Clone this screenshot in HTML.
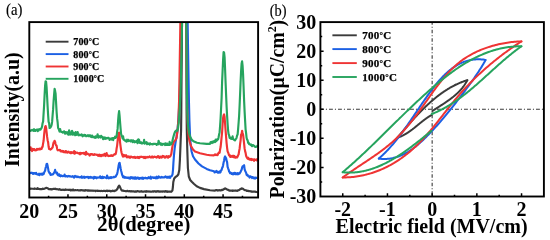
<!DOCTYPE html>
<html><head><meta charset="utf-8"><style>
html,body{margin:0;padding:0;background:#fff;}
body{width:550px;height:240px;overflow:hidden;font-family:"Liberation Serif",serif;}
svg{display:block;will-change:transform;}
</style></head><body>
<svg width="550" height="240" viewBox="0 0 550 240">
<rect width="550" height="240" fill="#fff"/>
<defs><clipPath id="ca"><rect x="29.30" y="22.10" width="228.80" height="175.40"/></clipPath>
<clipPath id="cb"><rect x="320.40" y="22.10" width="223.50" height="174.40"/></clipPath></defs>
<g clip-path="url(#ca)" fill="none" stroke-width="2.15" stroke-linejoin="round">
<path d="M29.60,188.81 L30.10,188.86 L30.60,188.48 L31.10,188.68 L31.60,188.72 L32.10,188.73 L32.60,188.73 L33.10,188.74 L33.60,188.81 L34.10,188.96 L34.60,188.45 L35.10,188.73 L35.60,188.80 L36.10,188.87 L36.60,188.76 L37.10,188.89 L37.60,188.17 L38.10,188.96 L38.60,188.88 L39.10,188.88 L39.60,189.07 L40.10,189.08 L40.60,189.15 L41.10,188.95 L41.60,188.95 L42.10,189.22 L42.60,188.51 L43.10,188.99 L43.60,188.86 L44.10,188.89 L44.60,188.61 L45.10,188.30 L45.60,188.18 L46.10,187.71 L46.60,187.88 L47.10,188.02 L47.60,188.19 L48.10,188.54 L48.60,189.13 L49.10,189.01 L49.60,189.16 L50.10,189.39 L50.60,189.12 L51.10,189.29 L51.60,189.54 L52.10,189.27 L52.60,189.20 L53.10,188.85 L53.60,188.96 L54.10,188.87 L54.60,188.78 L55.10,188.87 L55.60,188.70 L56.10,189.15 L56.60,189.14 L57.10,189.33 L57.60,189.16 L58.10,189.34 L58.60,189.59 L59.10,189.47 L59.60,189.06 L60.10,189.64 L60.60,189.82 L61.10,189.81 L61.60,189.79 L62.10,189.87 L62.60,189.69 L63.10,189.58 L63.60,189.91 L64.10,189.80 L64.60,190.05 L65.10,190.02 L65.60,189.42 L66.10,189.67 L66.60,189.85 L67.10,189.79 L67.60,189.79 L68.10,189.88 L68.60,189.82 L69.10,189.93 L69.60,189.84 L70.10,189.58 L70.60,190.30 L71.10,189.95 L71.60,189.89 L72.10,190.38 L72.60,190.06 L73.10,189.49 L73.60,190.28 L74.10,190.06 L74.60,190.36 L75.10,190.10 L75.60,190.09 L76.10,190.25 L76.60,190.21 L77.10,190.27 L77.60,190.08 L78.10,190.23 L78.60,190.35 L79.10,190.28 L79.60,190.31 L80.10,190.16 L80.60,190.50 L81.10,190.02 L81.60,190.27 L82.10,190.20 L82.60,190.36 L83.10,190.33 L83.60,190.47 L84.10,190.67 L84.60,190.34 L85.10,190.56 L85.60,190.17 L86.10,190.25 L86.60,190.22 L87.10,190.49 L87.60,190.60 L88.10,190.27 L88.60,190.59 L89.10,190.43 L89.60,190.70 L90.10,190.67 L90.60,190.78 L91.10,190.56 L91.60,190.67 L92.10,190.65 L92.60,190.62 L93.10,190.91 L93.60,190.65 L94.10,190.77 L94.60,190.75 L95.10,190.69 L95.60,191.11 L96.10,190.73 L96.60,190.74 L97.10,190.65 L97.60,190.97 L98.10,190.84 L98.60,190.85 L99.10,190.94 L99.60,190.96 L100.10,190.88 L100.60,191.09 L101.10,190.88 L101.60,190.90 L102.10,191.11 L102.60,191.03 L103.10,190.99 L103.60,190.81 L104.10,190.76 L104.60,190.90 L105.10,191.08 L105.60,191.06 L106.10,190.88 L106.60,190.78 L107.10,190.56 L107.60,191.14 L108.10,191.06 L108.60,190.89 L109.10,190.88 L109.60,191.03 L110.10,190.91 L110.60,191.31 L111.10,191.15 L111.60,191.25 L112.10,190.93 L112.60,190.60 L113.10,190.90 L113.60,190.78 L114.10,191.14 L114.60,190.94 L115.10,190.44 L115.60,190.60 L116.10,190.32 L116.60,189.96 L117.10,189.13 L117.60,188.67 L118.10,187.17 L118.60,186.25 L119.10,185.54 L119.60,186.16 L120.10,187.30 L120.60,188.39 L121.10,189.38 L121.60,190.16 L122.10,190.58 L122.60,190.56 L123.10,190.54 L123.60,190.73 L124.10,191.01 L124.60,191.04 L125.10,190.98 L125.60,191.15 L126.10,191.30 L126.60,191.28 L127.10,190.91 L127.60,190.89 L128.10,191.20 L128.60,191.33 L129.10,191.16 L129.60,191.10 L130.10,191.45 L130.60,191.49 L131.10,191.04 L131.60,191.36 L132.10,191.42 L132.60,191.33 L133.10,191.28 L133.60,191.23 L134.10,191.50 L134.60,191.78 L135.10,191.48 L135.60,191.34 L136.10,191.72 L136.60,191.44 L137.10,191.11 L137.60,191.08 L138.10,191.53 L138.60,191.48 L139.10,191.27 L139.60,191.67 L140.10,191.69 L140.60,191.33 L141.10,191.37 L141.60,191.19 L142.10,191.73 L142.60,191.70 L143.10,191.52 L143.60,191.53 L144.10,191.62 L144.60,191.40 L145.10,191.44 L145.60,191.66 L146.10,191.12 L146.60,191.68 L147.10,191.31 L147.60,191.51 L148.10,191.60 L148.60,191.53 L149.10,191.34 L149.60,191.62 L150.10,191.53 L150.60,191.48 L151.10,191.72 L151.60,191.72 L152.10,191.56 L152.60,191.34 L153.10,191.72 L153.60,191.48 L154.10,191.13 L154.60,191.32 L155.10,191.40 L155.60,191.75 L156.10,191.57 L156.60,191.58 L157.10,191.14 L157.60,191.46 L158.10,191.09 L158.60,191.46 L159.10,191.68 L159.60,191.58 L160.10,191.29 L160.60,191.61 L161.10,191.40 L161.60,191.45 L162.10,191.75 L162.60,191.69 L163.10,191.35 L163.60,191.53 L164.10,191.56 L164.60,191.78 L165.10,191.51 L165.60,191.04 L166.10,191.68 L166.60,191.54 L167.10,191.29 L167.60,191.89 L168.10,191.60 L168.60,191.59 L169.10,191.62 L169.60,191.68 L170.10,191.75 L170.60,191.57 L171.10,191.81 L171.50,191.60 L172.40,190.60 L172.90,187.00 L173.30,182.00 L174.20,178.50 L175.50,177.00 L176.80,176.20 L178.30,174.50 L179.30,170.00 L179.90,160.00 L180.50,145.00 L181.10,130.00 L181.30,112.00 L181.40,95.00 L181.60,70.00 L181.90,40.00 L182.00,20.10 L186.30,20.10 L186.40,40.00 L186.50,80.00 L186.60,110.00 L186.80,130.00 L187.30,150.00 L187.90,168.00 L188.80,176.50 L190.20,180.00 L191.80,181.80 L193.80,183.80 L196.70,186.30 L200.00,187.90 L204.00,189.10 L210.00,190.20 L215.00,190.60 L215.60,190.22 L216.10,190.08 L216.60,190.15 L217.10,190.25 L217.60,190.56 L218.10,190.39 L218.60,190.28 L219.10,190.46 L219.60,190.14 L220.10,190.32 L220.60,190.24 L221.10,190.38 L221.60,189.85 L222.10,190.10 L222.60,190.02 L223.10,189.30 L223.60,189.44 L224.10,189.11 L224.60,188.72 L225.10,188.26 L225.60,188.75 L226.10,188.71 L226.60,189.33 L227.10,189.50 L227.60,189.79 L228.10,189.96 L228.60,189.91 L229.10,190.63 L229.60,190.60 L230.10,190.76 L230.60,190.68 L231.10,190.77 L231.60,190.75 L232.10,190.39 L232.60,190.99 L233.10,190.66 L233.60,190.60 L234.10,190.68 L234.60,190.76 L235.10,190.67 L235.60,190.78 L236.10,190.51 L236.60,190.82 L237.10,190.92 L237.60,190.41 L238.10,190.43 L238.60,190.17 L239.10,189.93 L239.60,189.69 L240.10,189.18 L240.60,188.85 L241.10,188.98 L241.60,188.33 L242.10,188.49 L242.60,188.47 L243.10,188.98 L243.60,189.33 L244.10,189.68 L244.60,189.92 L245.10,190.25 L245.60,190.23 L246.10,190.34 L246.60,190.73 L247.10,191.03 L247.60,190.81 L248.10,190.74 L248.60,190.97 L249.10,191.28 L249.60,191.22 L250.10,191.10 L250.60,191.44 L251.10,191.22 L251.60,191.42 L252.10,191.80 L252.60,191.67 L253.10,191.60 L253.60,191.59 L254.10,191.54 L254.60,191.71 L255.10,191.62 L255.60,191.91 L256.10,191.93 L256.60,192.05 L257.10,192.00 L257.60,191.83" stroke="#3b3b3b"/>
<path d="M29.60,173.50 L30.10,172.90 L30.60,173.18 L31.10,172.66 L31.60,172.91 L32.10,173.05 L32.60,172.92 L33.10,173.92 L33.60,173.12 L34.10,172.96 L34.60,173.30 L35.10,173.79 L35.60,173.23 L36.10,172.77 L36.60,174.18 L37.10,174.28 L37.60,174.31 L38.10,174.80 L38.60,174.62 L39.10,173.67 L39.60,175.16 L40.10,173.99 L40.60,174.04 L41.10,173.69 L41.60,174.58 L42.10,173.89 L42.60,174.70 L43.10,173.26 L43.60,174.14 L44.10,172.60 L44.60,171.55 L45.10,170.74 L45.60,167.84 L46.10,166.54 L46.60,163.95 L47.10,163.83 L47.60,165.86 L48.10,168.41 L48.60,171.33 L49.10,172.18 L49.60,173.31 L50.10,173.15 L50.60,174.95 L51.10,174.77 L51.60,174.75 L52.10,174.43 L52.60,174.40 L53.10,174.33 L53.60,173.46 L54.10,172.66 L54.60,171.95 L55.10,169.90 L55.60,172.02 L56.10,172.40 L56.60,173.48 L57.10,172.72 L57.60,174.75 L58.10,175.24 L58.60,175.43 L59.10,174.30 L59.60,175.83 L60.10,175.17 L60.60,176.34 L61.10,175.46 L61.60,175.81 L62.10,175.73 L62.60,176.23 L63.10,175.96 L63.60,175.91 L64.10,176.16 L64.60,174.58 L65.10,175.96 L65.60,176.37 L66.10,176.33 L66.60,175.99 L67.10,175.97 L67.60,176.67 L68.10,176.38 L68.60,175.92 L69.10,176.12 L69.60,176.45 L70.10,176.40 L70.60,176.34 L71.10,176.65 L71.60,176.78 L72.10,176.74 L72.60,176.14 L73.10,176.57 L73.60,176.87 L74.10,177.57 L74.60,176.24 L75.10,175.84 L75.60,176.48 L76.10,176.73 L76.60,176.45 L77.10,177.19 L77.60,176.54 L78.10,176.56 L78.60,177.17 L79.10,177.11 L79.60,177.38 L80.10,176.99 L80.60,177.11 L81.10,177.53 L81.60,176.33 L82.10,177.74 L82.60,177.25 L83.10,177.59 L83.60,177.11 L84.10,176.70 L84.60,177.86 L85.10,177.56 L85.60,177.15 L86.10,177.12 L86.60,177.15 L87.10,176.76 L87.60,177.37 L88.10,176.98 L88.60,178.04 L89.10,177.12 L89.60,177.27 L90.10,177.67 L90.60,176.83 L91.10,177.70 L91.60,177.52 L92.10,177.29 L92.60,177.75 L93.10,177.85 L93.60,178.52 L94.10,176.78 L94.60,177.48 L95.10,177.88 L95.60,177.14 L96.10,177.82 L96.60,178.32 L97.10,177.45 L97.60,177.62 L98.10,177.40 L98.60,177.61 L99.10,177.34 L99.60,177.54 L100.10,176.31 L100.60,177.95 L101.10,177.58 L101.60,177.21 L102.10,178.13 L102.60,176.70 L103.10,177.94 L103.60,177.37 L104.10,177.16 L104.60,177.44 L105.10,177.46 L105.60,177.70 L106.10,177.70 L106.60,178.19 L107.10,175.49 L107.60,177.66 L108.10,177.15 L108.60,178.34 L109.10,178.16 L109.60,177.67 L110.10,177.12 L110.60,178.03 L111.10,178.07 L111.60,177.17 L112.10,177.38 L112.60,177.56 L113.10,177.49 L113.60,177.03 L114.10,176.74 L114.60,177.04 L115.10,176.72 L115.60,176.73 L116.10,175.93 L116.60,174.74 L117.10,174.10 L117.60,171.67 L118.10,168.82 L118.60,165.57 L119.10,163.42 L119.60,162.78 L120.10,165.43 L120.60,168.28 L121.10,170.74 L121.60,172.48 L122.10,174.83 L122.60,175.89 L123.10,177.26 L123.60,176.41 L124.10,177.74 L124.60,176.98 L125.10,177.80 L125.60,177.30 L126.10,177.35 L126.60,177.70 L127.10,178.04 L127.60,177.91 L128.10,177.40 L128.60,178.21 L129.10,178.04 L129.60,177.61 L130.10,178.72 L130.60,177.25 L131.10,177.14 L131.60,177.92 L132.10,178.18 L132.60,177.46 L133.10,178.52 L133.60,177.66 L134.10,177.64 L134.60,178.65 L135.10,177.31 L135.60,178.63 L136.10,177.77 L136.60,178.64 L137.10,177.72 L137.60,177.55 L138.10,177.57 L138.60,178.50 L139.10,178.96 L139.60,178.24 L140.10,177.87 L140.60,178.42 L141.10,178.11 L141.60,178.58 L142.10,177.58 L142.60,178.12 L143.10,178.85 L143.60,177.89 L144.10,177.85 L144.60,178.21 L145.10,178.13 L145.60,177.70 L146.10,178.12 L146.60,177.99 L147.10,178.51 L147.60,177.94 L148.10,177.76 L148.60,177.23 L149.10,178.19 L149.60,178.08 L150.10,177.53 L150.60,176.69 L151.10,178.70 L151.60,177.53 L152.10,177.53 L152.60,177.32 L153.10,177.48 L153.60,177.98 L154.10,177.33 L154.60,177.90 L155.10,177.75 L155.60,178.26 L156.10,177.41 L156.60,176.75 L157.10,178.33 L157.60,177.72 L158.10,177.80 L158.60,176.40 L159.10,177.45 L159.60,177.01 L160.10,177.59 L160.60,177.77 L161.10,177.60 L161.60,176.85 L162.10,177.37 L162.60,177.23 L163.10,177.44 L163.60,177.45 L164.10,177.54 L164.60,176.79 L165.10,176.79 L165.60,176.42 L166.10,177.30 L166.60,177.56 L167.10,176.77 L167.60,177.16 L168.10,177.70 L168.60,177.48 L169.10,176.51 L169.60,177.07 L170.10,177.91 L170.50,176.60 L171.60,176.20 L172.50,174.50 L173.00,170.00 L173.40,163.00 L174.00,155.00 L174.70,148.00 L175.60,142.00 L176.50,137.00 L177.50,130.00 L178.50,118.00 L179.50,100.00 L180.50,70.00 L181.20,40.00 L181.60,20.10 L187.60,20.10 L187.90,40.00 L188.40,70.00 L188.90,100.00 L189.40,120.00 L190.00,135.00 L190.70,145.00 L191.60,151.50 L193.00,156.20 L195.00,159.50 L198.50,163.50 L202.00,166.40 L206.70,168.90 L210.00,170.30 L214.00,171.30 L214.60,172.45 L215.10,171.89 L215.60,171.45 L216.10,171.97 L216.60,170.94 L217.10,172.06 L217.60,172.68 L218.10,171.89 L218.60,172.71 L219.10,172.42 L219.60,171.47 L220.10,172.57 L220.60,172.01 L221.10,170.29 L221.60,170.08 L222.10,167.99 L222.60,167.12 L223.10,165.30 L223.60,162.42 L224.10,160.41 L224.60,157.48 L225.10,156.45 L225.60,157.58 L226.10,158.23 L226.60,160.74 L227.10,162.03 L227.60,166.80 L228.10,168.27 L228.60,169.57 L229.10,171.37 L229.60,172.15 L230.10,173.24 L230.60,172.84 L231.10,173.08 L231.60,173.84 L232.10,173.36 L232.60,173.57 L233.10,174.31 L233.60,173.13 L234.10,173.94 L234.60,172.85 L235.10,174.15 L235.60,173.04 L236.10,173.94 L236.60,174.19 L237.10,173.95 L237.60,173.01 L238.10,174.35 L238.60,173.45 L239.10,173.33 L239.60,173.58 L240.10,172.53 L240.60,171.81 L241.10,170.60 L241.60,169.73 L242.10,167.71 L242.60,166.30 L243.10,166.34 L243.60,165.72 L244.10,165.23 L244.60,169.13 L245.10,170.72 L245.60,171.66 L246.10,172.84 L246.60,174.72 L247.10,175.34 L247.60,174.98 L248.10,176.17 L248.60,176.34 L249.10,176.44 L249.60,177.62 L250.10,176.19 L250.60,176.71 L251.10,176.94 L251.60,176.92 L252.10,178.02 L252.60,177.03 L253.10,177.52 L253.60,177.57 L254.10,178.42 L254.60,177.72 L255.10,178.53 L255.60,177.57 L256.10,177.75 L256.60,177.74 L257.10,178.04 L257.60,177.96" stroke="#1c60e4"/>
<path d="M29.60,149.46 L30.10,150.04 L30.60,147.34 L31.10,149.31 L31.60,149.60 L32.10,151.06 L32.60,148.76 L33.10,149.56 L33.60,149.86 L34.10,149.02 L34.60,150.22 L35.10,149.78 L35.60,150.41 L36.10,149.63 L36.60,149.99 L37.10,148.87 L37.60,149.55 L38.10,148.85 L38.60,149.54 L39.10,149.42 L39.60,148.57 L40.10,149.38 L40.60,148.65 L41.10,149.07 L41.60,148.97 L42.10,147.12 L42.60,146.76 L43.10,143.46 L43.60,140.81 L44.10,134.79 L44.60,130.24 L45.10,127.08 L45.60,126.05 L46.10,127.89 L46.60,132.24 L47.10,136.69 L47.60,140.14 L48.10,142.14 L48.60,146.52 L49.10,149.11 L49.60,149.29 L50.10,149.15 L50.60,149.52 L51.10,149.09 L51.60,148.64 L52.10,147.83 L52.60,147.45 L53.10,144.56 L53.60,142.45 L54.10,141.80 L54.60,140.75 L55.10,141.65 L55.60,144.00 L56.10,145.54 L56.60,145.66 L57.10,148.70 L57.60,150.30 L58.10,150.24 L58.60,150.08 L59.10,150.26 L59.60,149.90 L60.10,150.10 L60.60,151.33 L61.10,150.97 L61.60,150.94 L62.10,151.63 L62.60,150.94 L63.10,151.12 L63.60,152.05 L64.10,151.59 L64.60,151.70 L65.10,152.49 L65.60,150.98 L66.10,152.04 L66.60,151.33 L67.10,152.66 L67.60,152.13 L68.10,152.36 L68.60,151.70 L69.10,152.20 L69.60,152.47 L70.10,153.03 L70.60,152.10 L71.10,153.19 L71.60,152.23 L72.10,152.65 L72.60,152.43 L73.10,152.99 L73.60,151.67 L74.10,151.10 L74.60,153.76 L75.10,151.78 L75.60,153.13 L76.10,152.72 L76.60,152.62 L77.10,152.48 L77.60,153.07 L78.10,153.28 L78.60,153.20 L79.10,153.07 L79.60,154.19 L80.10,152.83 L80.60,154.17 L81.10,153.49 L81.60,153.16 L82.10,153.02 L82.60,153.24 L83.10,153.35 L83.60,152.84 L84.10,153.87 L84.60,152.92 L85.10,153.66 L85.60,154.69 L86.10,151.93 L86.60,154.12 L87.10,153.95 L87.60,153.61 L88.10,154.09 L88.60,154.39 L89.10,154.28 L89.60,155.54 L90.10,154.94 L90.60,154.01 L91.10,154.49 L91.60,154.15 L92.10,154.08 L92.60,154.53 L93.10,154.93 L93.60,154.61 L94.10,154.95 L94.60,154.18 L95.10,154.39 L95.60,154.59 L96.10,154.65 L96.60,154.92 L97.10,154.63 L97.60,155.19 L98.10,155.83 L98.60,154.81 L99.10,155.55 L99.60,154.61 L100.10,156.11 L100.60,155.15 L101.10,155.48 L101.60,156.10 L102.10,154.90 L102.60,155.28 L103.10,154.62 L103.60,155.56 L104.10,155.41 L104.60,153.83 L105.10,155.39 L105.60,156.02 L106.10,155.02 L106.60,153.03 L107.10,155.24 L107.60,155.62 L108.10,155.46 L108.60,156.09 L109.10,155.86 L109.60,155.71 L110.10,155.99 L110.60,155.68 L111.10,155.16 L111.60,155.32 L112.10,155.99 L112.60,156.02 L113.10,155.35 L113.60,155.01 L114.10,154.37 L114.60,154.15 L115.10,154.41 L115.60,154.10 L116.10,152.30 L116.60,148.54 L117.10,145.84 L117.60,141.15 L118.10,136.92 L118.60,132.89 L119.10,132.60 L119.60,136.44 L120.10,142.57 L120.60,146.62 L121.10,150.24 L121.60,152.77 L122.10,154.45 L122.60,155.85 L123.10,156.60 L123.60,154.81 L124.10,156.11 L124.60,155.31 L125.10,156.30 L125.60,156.18 L126.10,155.16 L126.60,156.54 L127.10,157.31 L127.60,156.81 L128.10,156.34 L128.60,156.97 L129.10,157.43 L129.60,156.72 L130.10,157.77 L130.60,156.79 L131.10,156.65 L131.60,156.76 L132.10,157.35 L132.60,157.37 L133.10,156.98 L133.60,157.14 L134.10,157.63 L134.60,156.79 L135.10,156.98 L135.60,157.85 L136.10,157.75 L136.60,157.55 L137.10,156.96 L137.60,156.94 L138.10,157.87 L138.60,157.10 L139.10,158.02 L139.60,156.98 L140.10,157.18 L140.60,157.11 L141.10,156.55 L141.60,156.87 L142.10,156.76 L142.60,157.18 L143.10,157.13 L143.60,156.95 L144.10,158.01 L144.60,156.99 L145.10,156.88 L145.60,158.01 L146.10,157.62 L146.60,157.26 L147.10,156.83 L147.60,157.38 L148.10,157.17 L148.60,157.32 L149.10,156.81 L149.60,156.44 L150.10,157.03 L150.60,157.54 L151.10,157.49 L151.60,157.37 L152.10,156.44 L152.60,156.51 L153.10,157.61 L153.60,156.97 L154.10,157.04 L154.60,156.56 L155.10,157.07 L155.60,157.19 L156.10,157.05 L156.60,157.61 L157.10,157.00 L157.60,156.24 L158.10,156.13 L158.60,157.49 L159.10,156.69 L159.60,157.95 L160.10,157.12 L160.60,156.56 L161.10,157.01 L161.60,157.65 L162.10,157.21 L162.60,155.94 L163.10,156.56 L163.60,156.07 L164.10,156.39 L164.60,157.58 L165.10,157.32 L165.60,157.54 L166.10,156.47 L166.60,156.11 L167.10,156.34 L167.60,156.50 L168.10,157.73 L168.60,156.22 L169.00,157.00 L170.40,156.20 L171.30,154.00 L172.00,149.00 L172.80,144.50 L174.00,141.50 L175.30,140.30 L176.50,138.00 L177.50,131.00 L178.40,120.00 L179.10,100.00 L179.60,70.00 L180.10,40.00 L180.40,20.10 L186.00,20.10 L186.30,40.00 L186.80,80.00 L187.30,110.00 L187.90,128.00 L188.70,137.00 L189.60,141.50 L191.00,146.00 L193.00,149.60 L195.00,151.60 L200.00,153.30 L206.70,154.80 L210.00,155.30 L214.00,155.40 L214.60,154.74 L215.10,154.28 L215.60,154.87 L216.10,155.17 L216.60,154.48 L217.10,154.65 L217.60,155.12 L218.10,153.82 L218.60,152.86 L219.10,152.27 L219.60,152.82 L220.10,149.56 L220.60,147.07 L221.10,142.39 L221.60,137.21 L222.10,132.22 L222.60,124.28 L223.10,117.90 L223.60,115.27 L224.10,114.37 L224.60,117.05 L225.10,124.03 L225.60,130.55 L226.10,137.13 L226.60,143.10 L227.10,147.81 L227.60,151.38 L228.10,152.48 L228.60,153.85 L229.10,155.48 L229.60,154.96 L230.10,156.71 L230.60,156.94 L231.10,155.92 L231.60,156.71 L232.10,156.77 L232.60,155.78 L233.10,157.01 L233.60,155.80 L234.10,157.47 L234.60,156.21 L235.10,157.26 L235.60,157.74 L236.10,157.26 L236.60,156.91 L237.10,157.47 L237.60,156.55 L238.10,155.29 L238.60,154.48 L239.10,151.11 L239.60,148.68 L240.10,144.06 L240.60,140.31 L241.10,134.69 L241.60,133.91 L242.10,130.81 L242.60,133.05 L243.10,134.75 L243.60,138.97 L244.10,143.65 L244.60,148.38 L245.10,151.11 L245.60,152.86 L246.10,155.77 L246.60,156.97 L247.10,157.87 L247.60,158.57 L248.10,157.62 L248.60,159.23 L249.10,158.91 L249.60,158.80 L250.10,159.83 L250.60,158.94 L251.10,158.84 L251.60,160.02 L252.10,159.23 L252.60,159.67 L253.10,159.97 L253.60,159.43 L254.10,160.83 L254.60,159.38 L255.10,159.99 L255.60,159.98 L256.10,159.80 L256.60,160.39 L257.10,160.19 L257.60,158.30" stroke="#ef3434"/>
<path d="M29.60,130.27 L30.10,130.54 L30.60,130.82 L31.10,130.50 L31.60,130.28 L32.10,129.78 L32.60,130.36 L33.10,130.48 L33.60,130.75 L34.10,129.19 L34.60,129.85 L35.10,130.98 L35.60,130.33 L36.10,129.93 L36.60,129.69 L37.10,130.03 L37.60,131.16 L38.10,129.44 L38.60,130.57 L39.10,129.36 L39.60,129.05 L40.10,129.52 L40.60,129.62 L41.10,128.59 L41.60,127.86 L42.10,126.44 L42.60,123.03 L43.10,121.66 L43.60,113.52 L44.10,105.44 L44.60,94.86 L45.10,85.59 L45.60,81.24 L46.10,81.80 L46.60,87.35 L47.10,96.53 L47.60,106.30 L48.10,114.82 L48.60,121.87 L49.10,123.16 L49.60,128.04 L50.10,127.71 L50.60,127.17 L51.10,126.42 L51.60,124.96 L52.10,121.92 L52.60,115.33 L53.10,109.43 L53.60,101.04 L54.10,94.61 L54.60,88.85 L55.10,90.85 L55.60,93.79 L56.10,103.06 L56.60,111.79 L57.10,118.43 L57.60,122.03 L58.10,127.98 L58.60,128.81 L59.10,130.14 L59.60,131.57 L60.10,129.00 L60.60,131.30 L61.10,131.90 L61.60,131.76 L62.10,131.94 L62.60,132.56 L63.10,132.00 L63.60,132.42 L64.10,131.26 L64.60,132.69 L65.10,133.72 L65.60,132.10 L66.10,133.47 L66.60,133.08 L67.10,132.15 L67.60,132.79 L68.10,134.46 L68.60,134.71 L69.10,130.26 L69.60,134.45 L70.10,134.58 L70.60,133.91 L71.10,134.33 L71.60,131.32 L72.10,130.91 L72.60,134.65 L73.10,134.64 L73.60,132.71 L74.10,133.61 L74.60,133.43 L75.10,135.31 L75.60,132.06 L76.10,134.26 L76.60,134.92 L77.10,133.76 L77.60,132.03 L78.10,133.78 L78.60,135.29 L79.10,135.08 L79.60,134.57 L80.10,135.23 L80.60,135.13 L81.10,135.11 L81.60,134.33 L82.10,135.01 L82.60,136.32 L83.10,135.73 L83.60,135.60 L84.10,134.76 L84.60,135.67 L85.10,135.18 L85.60,135.10 L86.10,136.25 L86.60,136.19 L87.10,135.73 L87.60,135.62 L88.10,135.13 L88.60,136.24 L89.10,135.48 L89.60,135.37 L90.10,135.42 L90.60,136.76 L91.10,135.85 L91.60,137.03 L92.10,135.53 L92.60,137.09 L93.10,137.31 L93.60,136.71 L94.10,136.79 L94.60,137.25 L95.10,137.94 L95.60,136.27 L96.10,137.55 L96.60,137.27 L97.10,136.81 L97.60,134.22 L98.10,137.22 L98.60,137.51 L99.10,136.13 L99.60,136.66 L100.10,137.00 L100.60,137.55 L101.10,135.86 L101.60,137.12 L102.10,136.73 L102.60,137.27 L103.10,139.18 L103.60,138.67 L104.10,137.36 L104.60,137.62 L105.10,138.88 L105.60,137.65 L106.10,138.61 L106.60,138.21 L107.10,138.42 L107.60,138.13 L108.10,137.67 L108.60,138.26 L109.10,138.31 L109.60,140.01 L110.10,138.52 L110.60,139.06 L111.10,138.93 L111.60,139.53 L112.10,138.00 L112.60,138.20 L113.10,140.10 L113.60,138.25 L114.10,137.78 L114.60,138.01 L115.10,136.69 L115.60,137.92 L116.10,137.13 L116.60,136.15 L117.10,131.82 L117.60,128.89 L118.10,120.90 L118.60,114.61 L119.10,111.17 L119.60,115.76 L120.10,122.51 L120.60,128.63 L121.10,134.01 L121.60,135.44 L122.10,136.51 L122.60,138.42 L123.10,136.33 L123.60,139.59 L124.10,139.91 L124.60,139.89 L125.10,140.74 L125.60,140.55 L126.10,141.27 L126.60,141.60 L127.10,139.68 L127.60,140.89 L128.10,139.82 L128.60,141.07 L129.10,140.40 L129.60,140.61 L130.10,140.71 L130.60,141.46 L131.10,140.21 L131.60,140.58 L132.10,140.64 L132.60,142.12 L133.10,140.35 L133.60,140.66 L134.10,140.90 L134.60,142.34 L135.10,142.06 L135.60,141.28 L136.10,141.49 L136.60,142.14 L137.10,140.62 L137.60,143.23 L138.10,139.46 L138.60,139.33 L139.10,139.99 L139.60,142.82 L140.10,143.02 L140.60,142.86 L141.10,142.26 L141.60,143.48 L142.10,143.08 L142.60,143.38 L143.10,142.72 L143.60,142.98 L144.10,139.93 L144.60,143.71 L145.10,143.09 L145.60,142.50 L146.10,142.52 L146.60,142.11 L147.10,144.23 L147.60,143.80 L148.10,143.39 L148.60,143.98 L149.10,143.61 L149.60,144.54 L150.10,143.34 L150.60,144.18 L151.10,144.15 L151.60,144.03 L152.10,144.22 L152.60,144.35 L153.10,143.76 L153.60,144.09 L154.10,143.76 L154.60,143.89 L155.10,143.80 L155.60,144.01 L156.10,144.15 L156.60,144.86 L157.10,143.93 L157.60,144.25 L158.10,144.45 L158.60,140.71 L159.10,142.51 L159.60,143.53 L160.10,143.10 L160.60,144.64 L161.10,144.74 L161.60,143.54 L162.10,145.03 L162.60,144.61 L163.10,144.36 L163.60,143.93 L164.10,144.13 L164.60,143.69 L165.10,145.11 L165.60,143.35 L166.10,144.72 L166.60,144.89 L167.10,143.53 L167.60,144.98 L168.10,144.62 L168.60,144.89 L169.10,144.99 L169.60,141.81 L170.10,144.68 L170.40,144.60 L171.30,144.20 L172.30,141.50 L173.20,137.50 L174.20,134.00 L175.20,131.50 L176.20,130.50 L177.20,130.80 L178.00,128.50 L178.80,122.00 L179.60,110.00 L180.40,95.00 L181.10,70.00 L181.70,40.00 L182.10,20.10 L186.20,20.10 L186.50,40.00 L186.80,80.00 L187.20,110.00 L187.70,122.00 L188.40,129.00 L189.30,134.00 L190.50,137.50 L192.10,140.20 L194.00,141.60 L197.00,142.80 L200.00,143.30 L206.70,143.90 L210.00,143.90 L210.60,142.19 L211.10,142.52 L211.60,141.80 L212.10,143.08 L212.60,142.21 L213.10,141.37 L213.60,142.28 L214.10,141.23 L214.60,140.92 L215.10,142.03 L215.60,139.68 L216.10,141.30 L216.60,139.63 L217.10,140.39 L217.60,139.03 L218.10,139.26 L218.60,137.14 L219.10,134.40 L219.60,132.20 L220.10,125.71 L220.60,118.40 L221.10,107.97 L221.60,98.16 L222.10,81.87 L222.60,70.93 L223.10,59.59 L223.60,51.98 L224.10,52.70 L224.60,57.25 L225.10,69.47 L225.60,82.70 L226.10,94.84 L226.60,106.54 L227.10,115.83 L227.60,123.77 L228.10,130.30 L228.60,134.08 L229.10,135.26 L229.60,137.90 L230.10,137.48 L230.60,138.57 L231.10,137.81 L231.60,138.93 L232.10,138.90 L232.60,136.39 L233.10,139.14 L233.60,139.48 L234.10,139.75 L234.60,140.19 L235.10,140.36 L235.60,139.09 L236.10,138.84 L236.60,137.59 L237.10,135.39 L237.60,134.65 L238.10,129.22 L238.60,122.73 L239.10,116.09 L239.60,105.69 L240.10,94.16 L240.60,81.44 L241.10,71.17 L241.60,63.57 L242.10,61.35 L242.60,65.86 L243.10,74.90 L243.60,87.21 L244.10,100.66 L244.60,111.34 L245.10,120.67 L245.60,129.33 L246.10,133.17 L246.60,137.82 L247.10,139.71 L247.60,140.16 L248.10,142.72 L248.60,142.51 L249.10,144.17 L249.60,143.96 L250.10,144.38 L250.60,144.97 L251.10,144.50 L251.60,145.68 L252.10,146.20 L252.60,145.25 L253.10,145.07 L253.60,145.51 L254.10,145.70 L254.60,146.59 L255.10,146.48 L255.60,147.01 L256.10,146.92 L256.60,146.65 L257.10,146.31 L257.60,145.07" stroke="#26a45e"/>
</g>
<path d="M67.97,197.50V194.30M106.75,197.50V194.30M145.53,197.50V194.30M184.30,197.50V194.30M223.07,197.50V194.30M48.59,197.50V195.70M87.36,197.50V195.70M126.14,197.50V195.70M164.91,197.50V195.70M203.69,197.50V195.70M242.46,197.50V195.70" stroke="#000" stroke-width="1.5" fill="none"/>
<rect x="29.30" y="22.10" width="228.80" height="175.40" fill="none" stroke="#000" stroke-width="1.9"/>
<line x1="45.7" y1="41.70" x2="68.5" y2="41.70" stroke="#3b3b3b" stroke-width="1.9"/>
<text x="73.3" y="45.10" font-family="Liberation Serif" font-weight="bold" font-size="10" stroke="#000" stroke-width="0.25" textLength="25.9">700<tspan font-size="7.8" dy="-0.9">°</tspan><tspan dy="0.9">C</tspan></text>
<line x1="45.7" y1="54.10" x2="68.5" y2="54.10" stroke="#1c60e4" stroke-width="1.9"/>
<text x="73.3" y="57.50" font-family="Liberation Serif" font-weight="bold" font-size="10" stroke="#000" stroke-width="0.25" textLength="25.9">800<tspan font-size="7.8" dy="-0.9">°</tspan><tspan dy="0.9">C</tspan></text>
<line x1="45.7" y1="66.50" x2="68.5" y2="66.50" stroke="#ef3434" stroke-width="1.9"/>
<text x="73.3" y="69.90" font-family="Liberation Serif" font-weight="bold" font-size="10" stroke="#000" stroke-width="0.25" textLength="25.9">900<tspan font-size="7.8" dy="-0.9">°</tspan><tspan dy="0.9">C</tspan></text>
<line x1="45.7" y1="78.80" x2="68.5" y2="78.80" stroke="#26a45e" stroke-width="1.9"/>
<text x="73.3" y="82.20" font-family="Liberation Serif" font-weight="bold" font-size="10" stroke="#000" stroke-width="0.25" textLength="31.0">1000<tspan font-size="7.8" dy="-0.9">°</tspan><tspan dy="0.9">C</tspan></text>
<text x="29.20" y="217.5" text-anchor="middle" font-family="Liberation Serif" font-weight="bold" font-size="20">20</text>
<text x="67.97" y="217.5" text-anchor="middle" font-family="Liberation Serif" font-weight="bold" font-size="20">25</text>
<text x="106.75" y="217.5" text-anchor="middle" font-family="Liberation Serif" font-weight="bold" font-size="20">30</text>
<text x="145.53" y="217.5" text-anchor="middle" font-family="Liberation Serif" font-weight="bold" font-size="20">35</text>
<text x="184.30" y="217.5" text-anchor="middle" font-family="Liberation Serif" font-weight="bold" font-size="20">40</text>
<text x="223.07" y="217.5" text-anchor="middle" font-family="Liberation Serif" font-weight="bold" font-size="20">45</text>
<text x="97.3" y="231.3" font-family="Liberation Serif" font-weight="bold" font-size="20" textLength="93" lengthAdjust="spacingAndGlyphs">2θ(degree)</text>
<text transform="translate(19.2,166.9) rotate(-90)" font-family="Liberation Serif" font-weight="bold" font-size="20" textLength="114.6" lengthAdjust="spacingAndGlyphs">Intensity(a.u)</text>
<text x="6" y="15.2" font-family="Liberation Serif" font-size="16.4" textLength="16.4" lengthAdjust="spacingAndGlyphs" stroke="#000" stroke-width="0.15">(a)</text>
<g stroke="#3a3a3a" stroke-width="1.1" fill="none">
<line x1="320.40" y1="109.30" x2="543.90" y2="109.30" stroke-dasharray="3.9,2,1.1,2" stroke-dashoffset="0.4"/>
<line x1="432.15" y1="22.10" x2="432.15" y2="196.50" stroke-dasharray="3.6,1.95,1,1.95" stroke-dashoffset="0.9"/>
</g>
<g clip-path="url(#cb)" fill="none" stroke-width="2.0" stroke-linejoin="round" stroke-linecap="round">
<path d="M467.29,80.18 L466.75,80.35 L466.20,80.52 L465.66,80.69 L465.12,80.87 L464.58,81.06 L464.05,81.24 L463.51,81.44 L462.98,81.63 L462.45,81.83 L461.92,82.03 L461.39,82.24 L460.86,82.45 L460.33,82.67 L459.81,82.89 L459.29,83.11 L458.77,83.34 L458.25,83.56 L457.73,83.80 L457.21,84.04 L456.70,84.28 L456.18,84.52 L455.67,84.77 L455.16,85.02 L454.65,85.27 L454.14,85.53 L453.63,85.79 L453.13,86.06 L452.63,86.33 L452.12,86.60 L451.62,86.87 L451.12,87.15 L450.63,87.43 L450.13,87.72 L449.64,88.01 L449.14,88.30 L448.65,88.59 L448.16,88.89 L447.67,89.19 L447.18,89.49 L446.70,89.80 L446.21,90.10 L445.73,90.42 L445.25,90.73 L444.76,91.05 L444.29,91.37 L443.81,91.69 L443.33,92.01 L442.86,92.34 L442.38,92.67 L441.91,93.01 L441.44,93.34 L440.97,93.68 L440.50,94.02 L440.03,94.37 L439.56,94.71 L439.10,95.06 L438.64,95.41 L438.17,95.76 L437.71,96.12 L437.25,96.48 L436.80,96.84 L436.34,97.20 L435.88,97.56 L435.43,97.93 L434.98,98.30 L434.52,98.67 L434.07,99.04 L433.62,99.42 L433.18,99.79 L432.73,100.17 L432.28,100.55 L431.84,100.94 L431.40,101.32 L430.95,101.71 L430.51,102.09 L430.07,102.48 L429.63,102.88 L429.20,103.27 L428.76,103.66 L428.33,104.06 L427.89,104.46 L427.46,104.86 L427.03,105.26 L426.60,105.66 L426.17,106.07 L425.74,106.47 L425.32,106.88 L424.89,107.29 L424.47,107.70 L424.04,108.11 L423.62,108.52 L423.20,108.94 L422.78,109.35 L422.36,109.77 L421.94,110.18 L421.53,110.60 L421.11,111.02 L420.70,111.44 L420.29,111.86 L419.87,112.29 L419.46,112.71 L419.05,113.13 L418.64,113.56 L418.24,113.99 L417.83,114.41 L417.42,114.84 L417.02,115.27 L416.62,115.70 L416.21,116.13 L415.81,116.56 L415.41,116.99 L415.01,117.42 L414.61,117.85 L414.22,118.29 L413.82,118.72 L413.42,119.15 L413.03,119.59 L412.64,120.02 L412.24,120.46 L411.85,120.89 L411.46,121.33 L411.07,121.77 L410.68,122.20 L410.30,122.64 L409.91,123.08 L409.52,123.51 L409.14,123.95 L408.76,124.39 L408.37,124.82 L407.99,125.26 L407.61,125.70 L407.23,126.13 L406.85,126.57 L406.47,127.01 L406.09,127.44 L405.72,127.88 L405.34,128.32 L404.97,128.75 L404.59,129.19 L404.22,129.62 L403.85,130.06 L403.48,130.49 L403.11,130.93 L402.74,131.36 L402.37,131.80 L402.00,132.23 L401.64,132.66 L401.27,133.09 L400.90,133.52 L400.54,133.95 L400.18,134.38 L399.81,134.81 L399.45,135.24 L399.09,135.67 L398.73,136.10 L398.37,136.52 L398.01,136.95 L397.65,137.37 L397.30,137.79" stroke="#3b3b3b"/>
<path d="M397.30,137.80 L397.55,137.72 L397.81,137.63 L398.06,137.54 L398.31,137.45 L398.57,137.36 L398.82,137.27 L399.06,137.18 L399.31,137.08 L399.56,136.98 L399.80,136.88 L400.05,136.78 L400.29,136.68 L400.53,136.58 L400.78,136.47 L401.02,136.37 L401.26,136.26 L401.49,136.15 L401.73,136.04 L401.97,135.93 L402.20,135.81 L402.44,135.70 L402.67,135.58 L402.91,135.47 L403.14,135.35 L403.37,135.23 L403.60,135.11 L403.83,134.98 L404.06,134.86 L404.29,134.73 L404.51,134.61 L404.74,134.48 L404.96,134.35 L405.19,134.22 L405.41,134.09 L405.64,133.96 L405.86,133.83 L406.08,133.69 L406.30,133.56 L406.52,133.42 L406.74,133.29 L406.96,133.15 L407.18,133.01 L407.40,132.87 L407.61,132.73 L407.83,132.59 L408.05,132.44 L408.26,132.30 L408.47,132.16 L408.69,132.01 L408.90,131.87 L409.12,131.72 L409.33,131.57 L409.54,131.42 L409.75,131.27 L409.96,131.12 L410.17,130.97 L410.38,130.82 L410.59,130.67 L410.80,130.52 L411.01,130.36 L411.22,130.21 L411.42,130.05 L411.63,129.90 L411.84,129.74 L412.05,129.59 L412.25,129.43 L412.46,129.27 L412.66,129.11 L412.87,128.96 L413.07,128.80 L413.28,128.64 L413.48,128.48 L413.69,128.32 L413.89,128.16 L414.09,128.00 L414.30,127.84 L414.50,127.67 L414.70,127.51 L414.91,127.35 L415.11,127.19 L415.31,127.02 L415.51,126.86 L415.71,126.70 L415.92,126.53 L416.12,126.37 L416.32,126.21 L416.52,126.04 L416.72,125.88 L416.92,125.71 L417.13,125.55 L417.33,125.39 L417.53,125.22 L417.73,125.06 L417.93,124.89 L418.13,124.73 L418.33,124.56 L418.54,124.40 L418.74,124.23 L418.94,124.07 L419.14,123.91 L419.34,123.74 L419.54,123.58 L419.74,123.41 L419.95,123.25 L420.15,123.08 L420.35,122.92 L420.55,122.76 L420.76,122.60 L420.96,122.43 L421.16,122.27 L421.36,122.11 L421.57,121.95 L421.77,121.78 L421.97,121.62 L422.18,121.46 L422.38,121.30 L422.59,121.14 L422.79,120.98 L423.00,120.82 L423.20,120.66 L423.41,120.50 L423.61,120.35 L423.82,120.19 L424.03,120.03 L424.24,119.87 L424.44,119.72 L424.65,119.56 L424.86,119.41 L425.07,119.25 L425.28,119.10 L425.49,118.95 L425.70,118.80 L425.91,118.64 L426.12,118.49 L426.33,118.34 L426.54,118.19 L426.76,118.04 L426.97,117.90 L427.18,117.75 L427.40,117.60 L427.61,117.46 L427.83,117.31 L428.05,117.17 L428.26,117.03 L428.48,116.88 L428.70,116.74 L428.92,116.60 L429.14,116.46 L429.36,116.32 L429.58,116.19 L429.80,116.05 L430.02,115.92 L430.25,115.78 L430.47,115.65 L430.69,115.52 L430.92,115.39 L431.14,115.26 L431.37,115.13 L431.60,115.00" stroke="#3b3b3b"/>
<path d="M432.40,111.00 L432.64,110.84 L432.88,110.68 L433.13,110.52 L433.37,110.36 L433.61,110.20 L433.85,110.04 L434.10,109.88 L434.34,109.72 L434.59,109.56 L434.83,109.40 L435.08,109.24 L435.32,109.08 L435.57,108.92 L435.82,108.76 L436.07,108.60 L436.31,108.44 L436.56,108.28 L436.81,108.12 L437.06,107.96 L437.31,107.80 L437.56,107.63 L437.80,107.47 L438.05,107.31 L438.30,107.15 L438.55,106.99 L438.80,106.83 L439.05,106.67 L439.30,106.51 L439.56,106.35 L439.81,106.18 L440.06,106.02 L440.31,105.86 L440.56,105.70 L440.81,105.54 L441.06,105.37 L441.31,105.21 L441.56,105.05 L441.81,104.88 L442.06,104.72 L442.32,104.55 L442.57,104.39 L442.82,104.23 L443.07,104.06 L443.32,103.90 L443.57,103.73 L443.82,103.56 L444.07,103.40 L444.32,103.23 L444.57,103.06 L444.82,102.90 L445.07,102.73 L445.32,102.56 L445.57,102.39 L445.82,102.22 L446.06,102.05 L446.31,101.88 L446.56,101.71 L446.81,101.54 L447.05,101.37 L447.30,101.20 L447.55,101.03 L447.79,100.86 L448.04,100.68 L448.28,100.51 L448.53,100.33 L448.77,100.16 L449.02,99.98 L449.26,99.81 L449.50,99.63 L449.75,99.45 L449.99,99.28 L450.23,99.10 L450.47,98.92 L450.71,98.74 L450.95,98.56 L451.19,98.38 L451.43,98.20 L451.66,98.02 L451.90,97.83 L452.14,97.65 L452.37,97.47 L452.61,97.28 L452.84,97.10 L453.07,96.91 L453.31,96.72 L453.54,96.54 L453.77,96.35 L454.00,96.16 L454.23,95.97 L454.46,95.78 L454.69,95.59 L454.91,95.40 L455.14,95.20 L455.36,95.01 L455.59,94.81 L455.81,94.62 L456.03,94.42 L456.25,94.23 L456.47,94.03 L456.69,93.83 L456.91,93.63 L457.13,93.43 L457.35,93.23 L457.56,93.03 L457.78,92.82 L457.99,92.62 L458.20,92.41 L458.41,92.21 L458.62,92.00 L458.83,91.79 L459.04,91.58 L459.24,91.37 L459.45,91.16 L459.65,90.95 L459.85,90.74 L460.06,90.52 L460.26,90.31 L460.45,90.09 L460.65,89.87 L460.85,89.66 L461.04,89.44 L461.24,89.22 L461.43,88.99 L461.62,88.77 L461.81,88.55 L462.00,88.32 L462.18,88.10 L462.37,87.87 L462.55,87.64 L462.73,87.41 L462.91,87.18 L463.09,86.95 L463.27,86.72 L463.45,86.48 L463.62,86.25 L463.79,86.01 L463.97,85.77 L464.13,85.53 L464.30,85.29 L464.47,85.05 L464.63,84.81 L464.80,84.56 L464.96,84.32 L465.12,84.07 L465.28,83.82 L465.43,83.57 L465.59,83.32 L465.74,83.07 L465.89,82.81 L466.04,82.56 L466.19,82.30 L466.33,82.05 L466.48,81.79 L466.62,81.53 L466.76,81.26 L466.90,81.00 L467.04,80.74 L467.17,80.47 L467.30,80.20" stroke="#3b3b3b"/>
<path d="M485.41,59.89 L484.35,59.73 L483.31,59.60 L482.28,59.49 L481.26,59.41 L480.24,59.35 L479.24,59.31 L478.25,59.30 L477.27,59.31 L476.29,59.34 L475.33,59.40 L474.38,59.47 L473.43,59.57 L472.50,59.69 L471.57,59.83 L470.66,60.00 L469.75,60.18 L468.85,60.38 L467.96,60.60 L467.08,60.84 L466.20,61.10 L465.34,61.38 L464.48,61.67 L463.63,61.99 L462.79,62.32 L461.96,62.67 L461.13,63.04 L460.32,63.42 L459.51,63.82 L458.71,64.23 L457.91,64.66 L457.13,65.11 L456.35,65.57 L455.57,66.05 L454.81,66.54 L454.05,67.04 L453.30,67.56 L452.55,68.09 L451.81,68.63 L451.08,69.19 L450.35,69.76 L449.63,70.34 L448.92,70.93 L448.21,71.54 L447.51,72.15 L446.82,72.78 L446.13,73.41 L445.44,74.06 L444.76,74.71 L444.09,75.38 L443.42,76.05 L442.76,76.73 L442.10,77.43 L441.45,78.12 L440.80,78.83 L440.15,79.54 L439.52,80.27 L438.88,80.99 L438.25,81.73 L437.63,82.47 L437.00,83.21 L436.39,83.96 L435.77,84.72 L435.16,85.48 L434.56,86.25 L433.96,87.02 L433.36,87.79 L432.76,88.57 L432.17,89.35 L431.58,90.13 L431.00,90.91 L430.42,91.70 L429.84,92.49 L429.26,93.28 L428.69,94.07 L428.12,94.86 L427.55,95.66 L426.98,96.45 L426.42,97.25 L425.85,98.05 L425.29,98.85 L424.74,99.65 L424.18,100.45 L423.63,101.25 L423.07,102.05 L422.52,102.85 L421.97,103.66 L421.43,104.46 L420.88,105.26 L420.33,106.07 L419.79,106.87 L419.25,107.68 L418.70,108.48 L418.16,109.29 L417.62,110.09 L417.08,110.90 L416.54,111.70 L416.00,112.50 L415.46,113.31 L414.92,114.11 L414.38,114.91 L413.84,115.72 L413.30,116.52 L412.76,117.32 L412.22,118.12 L411.68,118.92 L411.13,119.72 L410.59,120.51 L410.05,121.31 L409.50,122.10 L408.96,122.90 L408.41,123.69 L407.86,124.48 L407.31,125.27 L406.76,126.06 L406.21,126.84 L405.66,127.63 L405.10,128.41 L404.54,129.19 L403.99,129.97 L403.42,130.74 L402.86,131.52 L402.29,132.29 L401.73,133.06 L401.15,133.83 L400.58,134.59 L400.01,135.35 L399.43,136.11 L398.84,136.87 L398.26,137.62 L397.67,138.37 L397.08,139.12 L396.49,139.87 L395.89,140.61 L395.29,141.35 L394.68,142.09 L394.07,142.82 L393.46,143.55 L392.84,144.28 L392.22,145.00 L391.60,145.72 L390.97,146.43 L390.33,147.14 L389.70,147.85 L389.05,148.56 L388.41,149.26 L387.75,149.95 L387.10,150.64 L386.44,151.33 L385.77,152.01 L385.10,152.69 L384.42,153.37 L383.74,154.04 L383.05,154.70 L382.35,155.36 L381.65,156.02 L380.95,156.67 L380.24,157.32 L379.52,157.96 L378.80,158.59" stroke="#1c60e4"/>
<path d="M378.80,158.62 L379.80,158.73 L380.80,158.83 L381.79,158.89 L382.77,158.94 L383.75,158.96 L384.71,158.96 L385.67,158.94 L386.62,158.90 L387.56,158.83 L388.49,158.75 L389.42,158.64 L390.34,158.51 L391.25,158.37 L392.16,158.20 L393.06,158.02 L393.95,157.81 L394.83,157.59 L395.71,157.35 L396.58,157.09 L397.44,156.81 L398.30,156.52 L399.15,156.20 L400.00,155.88 L400.83,155.53 L401.67,155.17 L402.49,154.80 L403.31,154.41 L404.13,154.01 L404.94,153.59 L405.74,153.15 L406.54,152.71 L407.33,152.25 L408.12,151.78 L408.90,151.29 L409.68,150.79 L410.45,150.28 L411.22,149.76 L411.98,149.23 L412.73,148.69 L413.49,148.14 L414.24,147.57 L414.98,147.00 L415.72,146.42 L416.45,145.82 L417.18,145.22 L417.91,144.62 L418.63,144.00 L419.35,143.37 L420.07,142.74 L420.78,142.10 L421.49,141.46 L422.19,140.81 L422.89,140.15 L423.59,139.49 L424.29,138.82 L424.98,138.15 L425.67,137.47 L426.35,136.79 L427.04,136.10 L427.72,135.41 L428.40,134.72 L429.07,134.03 L429.75,133.33 L430.42,132.63 L431.08,131.92 L431.75,131.22 L432.41,130.51 L433.07,129.80 L433.73,129.09 L434.39,128.37 L435.04,127.65 L435.70,126.93 L436.35,126.21 L436.99,125.49 L437.64,124.76 L438.28,124.03 L438.93,123.30 L439.56,122.57 L440.20,121.83 L440.84,121.10 L441.47,120.36 L442.10,119.62 L442.73,118.88 L443.36,118.13 L443.98,117.39 L444.61,116.64 L445.23,115.90 L445.85,115.15 L446.47,114.40 L447.09,113.65 L447.70,112.89 L448.31,112.14 L448.93,111.39 L449.54,110.63 L450.15,109.87 L450.75,109.12 L451.36,108.36 L451.96,107.60 L452.56,106.84 L453.16,106.08 L453.76,105.32 L454.36,104.56 L454.96,103.79 L455.55,103.03 L456.15,102.27 L456.74,101.50 L457.33,100.74 L457.92,99.98 L458.51,99.21 L459.10,98.45 L459.69,97.68 L460.27,96.92 L460.86,96.16 L461.44,95.39 L462.02,94.63 L462.60,93.86 L463.18,93.10 L463.76,92.34 L464.34,91.57 L464.91,90.81 L465.49,90.05 L466.06,89.28 L466.63,88.52 L467.20,87.75 L467.77,86.99 L468.34,86.22 L468.90,85.45 L469.47,84.68 L470.03,83.92 L470.59,83.15 L471.14,82.37 L471.70,81.60 L472.25,80.83 L472.80,80.05 L473.35,79.28 L473.89,78.50 L474.44,77.72 L474.98,76.94 L475.52,76.16 L476.05,75.37 L476.58,74.59 L477.11,73.80 L477.64,73.01 L478.16,72.22 L478.68,71.42 L479.20,70.62 L479.71,69.82 L480.22,69.02 L480.73,68.22 L481.24,67.41 L481.74,66.60 L482.23,65.79 L482.73,64.97 L483.22,64.15 L483.70,63.33 L484.18,62.50 L484.66,61.68 L485.14,60.84 L485.61,60.01" stroke="#1c60e4"/>
<path d="M521.40,41.39 L520.01,41.44 L518.62,41.51 L517.22,41.59 L515.81,41.69 L514.39,41.81 L512.97,41.94 L511.54,42.10 L510.10,42.27 L508.66,42.47 L507.22,42.68 L505.77,42.91 L504.32,43.16 L502.87,43.42 L501.42,43.71 L499.97,44.01 L498.51,44.33 L497.06,44.68 L495.61,45.04 L494.17,45.42 L492.72,45.81 L491.28,46.23 L489.85,46.67 L488.42,47.12 L487.00,47.60 L485.58,48.09 L484.17,48.60 L482.77,49.13 L481.38,49.68 L480.00,50.25 L478.63,50.84 L477.27,51.45 L475.92,52.08 L474.58,52.73 L473.26,53.39 L471.95,54.08 L470.65,54.78 L469.38,55.51 L468.11,56.25 L466.87,57.02 L465.64,57.80 L464.43,58.61 L463.23,59.43 L462.06,60.27 L460.90,61.13 L459.76,62.01 L458.64,62.91 L457.54,63.83 L456.45,64.76 L455.37,65.70 L454.31,66.67 L453.27,67.65 L452.24,68.64 L451.22,69.65 L450.22,70.67 L449.23,71.70 L448.25,72.75 L447.28,73.81 L446.32,74.88 L445.37,75.96 L444.44,77.05 L443.51,78.15 L442.59,79.26 L441.68,80.38 L440.78,81.51 L439.88,82.65 L439.00,83.79 L438.12,84.94 L437.24,86.10 L436.37,87.26 L435.51,88.43 L434.65,89.60 L433.79,90.78 L432.94,91.96 L432.09,93.15 L431.24,94.34 L430.40,95.53 L429.55,96.72 L428.71,97.91 L427.87,99.11 L427.03,100.30 L426.18,101.49 L425.34,102.69 L424.50,103.88 L423.65,105.07 L422.80,106.26 L421.95,107.45 L421.10,108.64 L420.25,109.82 L419.39,111.00 L418.53,112.18 L417.67,113.36 L416.80,114.53 L415.92,115.69 L415.05,116.86 L414.16,118.01 L413.27,119.17 L412.38,120.32 L411.48,121.46 L410.57,122.59 L409.66,123.72 L408.74,124.85 L407.81,125.96 L406.87,127.07 L405.93,128.18 L404.98,129.27 L404.01,130.35 L403.04,131.43 L402.06,132.50 L401.07,133.56 L400.07,134.61 L399.06,135.65 L398.04,136.68 L397.01,137.70 L395.96,138.71 L394.91,139.71 L393.84,140.69 L392.76,141.67 L391.67,142.63 L390.56,143.58 L389.45,144.53 L388.32,145.46 L387.19,146.38 L386.04,147.30 L384.89,148.20 L383.73,149.10 L382.56,149.99 L381.38,150.87 L380.20,151.74 L379.01,152.61 L377.81,153.47 L376.61,154.32 L375.40,155.17 L374.19,156.02 L372.97,156.86 L371.75,157.69 L370.53,158.52 L369.30,159.35 L368.08,160.18 L366.85,161.00 L365.62,161.82 L364.39,162.64 L363.16,163.45 L361.93,164.27 L360.70,165.08 L359.47,165.90 L358.24,166.71 L357.02,167.53 L355.80,168.34 L354.58,169.16 L353.37,169.98 L352.16,170.80 L350.95,171.63 L349.75,172.45 L348.56,173.28 L347.37,174.12 L346.19,174.95 L345.02,175.80 L343.86,176.65 L342.70,177.50" stroke="#ef3434"/>
<path d="M342.69,177.50 L344.24,177.48 L345.77,177.44 L347.30,177.37 L348.81,177.29 L350.32,177.18 L351.83,177.04 L353.32,176.89 L354.80,176.71 L356.28,176.51 L357.75,176.29 L359.21,176.04 L360.66,175.78 L362.11,175.49 L363.54,175.19 L364.97,174.86 L366.39,174.51 L367.80,174.14 L369.20,173.75 L370.59,173.35 L371.98,172.92 L373.35,172.47 L374.72,172.01 L376.08,171.52 L377.43,171.02 L378.77,170.50 L380.10,169.96 L381.42,169.40 L382.73,168.82 L384.04,168.23 L385.33,167.62 L386.62,166.99 L387.90,166.34 L389.17,165.68 L390.43,165.01 L391.67,164.31 L392.91,163.60 L394.15,162.88 L395.37,162.13 L396.58,161.38 L397.78,160.61 L398.98,159.82 L400.16,159.02 L401.33,158.20 L402.50,157.37 L403.65,156.53 L404.80,155.67 L405.93,154.80 L407.06,153.92 L408.18,153.02 L409.28,152.11 L410.38,151.19 L411.46,150.26 L412.54,149.31 L413.61,148.35 L414.66,147.38 L415.71,146.40 L416.75,145.41 L417.78,144.40 L418.79,143.39 L419.80,142.36 L420.81,141.33 L421.80,140.29 L422.79,139.24 L423.76,138.18 L424.74,137.11 L425.70,136.03 L426.66,134.95 L427.61,133.86 L428.56,132.76 L429.50,131.66 L430.44,130.55 L431.37,129.44 L432.30,128.32 L433.22,127.20 L434.14,126.07 L435.06,124.94 L435.97,123.80 L436.89,122.66 L437.80,121.52 L438.70,120.37 L439.61,119.23 L440.51,118.08 L441.42,116.93 L442.32,115.78 L443.22,114.63 L444.12,113.47 L445.03,112.32 L445.93,111.17 L446.84,110.02 L447.74,108.87 L448.65,107.72 L449.56,106.58 L450.47,105.43 L451.39,104.29 L452.31,103.15 L453.23,102.02 L454.15,100.89 L455.08,99.76 L456.02,98.64 L456.96,97.52 L457.90,96.41 L458.85,95.31 L459.80,94.21 L460.76,93.11 L461.73,92.02 L462.70,90.94 L463.68,89.86 L464.66,88.79 L465.65,87.73 L466.64,86.67 L467.64,85.61 L468.64,84.57 L469.65,83.52 L470.67,82.49 L471.69,81.45 L472.71,80.43 L473.74,79.41 L474.78,78.39 L475.82,77.38 L476.86,76.38 L477.92,75.38 L478.97,74.39 L480.03,73.40 L481.10,72.42 L482.17,71.45 L483.25,70.48 L484.33,69.51 L485.41,68.55 L486.51,67.60 L487.60,66.65 L488.70,65.70 L489.81,64.77 L490.92,63.83 L492.03,62.91 L493.15,61.98 L494.28,61.07 L495.41,60.16 L496.54,59.25 L497.68,58.35 L498.82,57.45 L499.97,56.56 L501.13,55.68 L502.28,54.80 L503.45,53.92 L504.61,53.05 L505.78,52.18 L506.96,51.33 L508.14,50.47 L509.32,49.62 L510.51,48.78 L511.70,47.94 L512.90,47.10 L514.10,46.27 L515.31,45.45 L516.52,44.63 L517.73,43.81 L518.95,43.00 L520.17,42.20 L521.40,41.40" stroke="#ef3434"/>
<path d="M521.40,46.27 L519.95,46.28 L518.51,46.31 L517.07,46.36 L515.64,46.43 L514.22,46.52 L512.80,46.64 L511.40,46.77 L510.00,46.93 L508.60,47.11 L507.22,47.30 L505.84,47.52 L504.46,47.76 L503.10,48.02 L501.74,48.29 L500.38,48.59 L499.04,48.90 L497.70,49.23 L496.36,49.58 L495.04,49.95 L493.72,50.33 L492.40,50.74 L491.09,51.16 L489.79,51.59 L488.50,52.05 L487.20,52.52 L485.92,53.00 L484.64,53.50 L483.37,54.02 L482.10,54.55 L480.84,55.10 L479.59,55.66 L478.34,56.23 L477.09,56.82 L475.85,57.43 L474.62,58.04 L473.39,58.67 L472.17,59.32 L470.95,59.97 L469.74,60.64 L468.53,61.32 L467.33,62.01 L466.13,62.72 L464.94,63.44 L463.75,64.16 L462.57,64.90 L461.39,65.65 L460.21,66.41 L459.04,67.18 L457.88,67.96 L456.72,68.75 L455.56,69.54 L454.41,70.35 L453.26,71.17 L452.12,71.99 L450.98,72.82 L449.84,73.66 L448.71,74.51 L447.58,75.37 L446.46,76.23 L445.34,77.10 L444.22,77.98 L443.11,78.86 L442.00,79.75 L440.89,80.64 L439.79,81.54 L438.69,82.45 L437.60,83.36 L436.51,84.28 L435.42,85.20 L434.33,86.12 L433.25,87.05 L432.17,87.98 L431.09,88.92 L430.02,89.86 L428.95,90.80 L427.88,91.74 L426.81,92.69 L425.75,93.64 L424.69,94.60 L423.63,95.55 L422.58,96.51 L421.52,97.47 L420.47,98.44 L419.42,99.40 L418.38,100.37 L417.33,101.34 L416.29,102.31 L415.25,103.29 L414.21,104.27 L413.18,105.24 L412.14,106.23 L411.11,107.21 L410.08,108.19 L409.05,109.18 L408.02,110.16 L407.00,111.15 L405.97,112.14 L404.95,113.13 L403.93,114.12 L402.91,115.11 L401.89,116.11 L400.87,117.10 L399.85,118.09 L398.84,119.09 L397.82,120.09 L396.81,121.08 L395.79,122.08 L394.78,123.07 L393.77,124.07 L392.76,125.07 L391.75,126.07 L390.74,127.06 L389.73,128.06 L388.72,129.06 L387.71,130.05 L386.70,131.05 L385.69,132.04 L384.68,133.04 L383.67,134.03 L382.67,135.02 L381.66,136.02 L380.65,137.01 L379.64,138.00 L378.63,138.99 L377.62,139.97 L376.61,140.96 L375.60,141.94 L374.59,142.93 L373.58,143.91 L372.57,144.89 L371.56,145.87 L370.55,146.85 L369.53,147.82 L368.52,148.79 L367.50,149.76 L366.49,150.73 L365.47,151.70 L364.45,152.66 L363.43,153.62 L362.41,154.58 L361.39,155.54 L360.37,156.49 L359.34,157.44 L358.31,158.39 L357.29,159.33 L356.26,160.28 L355.23,161.21 L354.19,162.15 L353.16,163.08 L352.12,164.01 L351.09,164.93 L350.04,165.86 L349.00,166.77 L347.96,167.69 L346.91,168.60 L345.86,169.50 L344.81,170.41 L343.76,171.30 L342.70,172.20" stroke="#26a45e"/>
<path d="M342.70,172.21 L343.34,172.28 L343.99,172.34 L344.63,172.39 L345.27,172.44 L345.91,172.48 L346.55,172.51 L347.18,172.54 L347.82,172.56 L348.45,172.58 L349.09,172.59 L349.72,172.59 L350.35,172.59 L350.99,172.58 L351.62,172.56 L352.24,172.54 L352.87,172.51 L353.50,172.48 L354.13,172.43 L354.75,172.39 L355.37,172.34 L356.00,172.28 L356.62,172.21 L357.24,172.14 L357.86,172.07 L358.48,171.99 L359.09,171.90 L359.71,171.81 L360.33,171.71 L360.94,171.61 L361.55,171.50 L362.17,171.39 L362.78,171.27 L363.39,171.15 L364.00,171.02 L364.60,170.88 L365.21,170.74 L365.82,170.60 L366.42,170.45 L367.03,170.30 L367.63,170.14 L368.23,169.97 L368.83,169.81 L369.43,169.63 L370.03,169.45 L370.63,169.27 L371.22,169.08 L371.82,168.89 L372.41,168.70 L373.00,168.50 L373.60,168.29 L374.19,168.08 L374.78,167.87 L375.36,167.65 L375.95,167.43 L376.54,167.20 L377.12,166.97 L377.71,166.74 L378.29,166.50 L378.87,166.26 L379.46,166.01 L380.04,165.76 L380.61,165.51 L381.19,165.25 L381.77,164.99 L382.34,164.73 L382.92,164.46 L383.49,164.19 L384.07,163.91 L384.64,163.63 L385.21,163.35 L385.78,163.07 L386.34,162.78 L386.91,162.49 L387.48,162.19 L388.04,161.89 L388.61,161.59 L389.17,161.29 L389.73,160.98 L390.29,160.67 L390.85,160.36 L391.41,160.04 L391.96,159.72 L392.52,159.40 L393.08,159.08 L393.63,158.75 L394.18,158.42 L394.73,158.09 L395.28,157.76 L395.83,157.42 L396.38,157.08 L396.93,156.74 L397.48,156.40 L398.02,156.05 L398.56,155.70 L399.11,155.35 L399.65,155.00 L400.19,154.65 L400.73,154.29 L401.27,153.93 L401.80,153.57 L402.34,153.21 L402.87,152.85 L403.41,152.48 L403.94,152.11 L404.47,151.75 L405.00,151.38 L405.53,151.00 L406.06,150.63 L406.59,150.26 L407.11,149.88 L407.64,149.50 L408.16,149.12 L408.69,148.74 L409.21,148.36 L409.73,147.98 L410.25,147.60 L410.76,147.21 L411.28,146.83 L411.80,146.44 L412.31,146.05 L412.83,145.67 L413.34,145.28 L413.85,144.89 L414.36,144.50 L414.87,144.11 L415.38,143.72 L415.88,143.32 L416.39,142.93 L416.89,142.54 L417.40,142.15 L417.90,141.75 L418.40,141.36 L418.90,140.96 L419.40,140.57 L419.90,140.18 L420.39,139.78 L420.89,139.39 L421.38,138.99 L421.88,138.60 L422.37,138.20 L422.86,137.81 L423.35,137.42 L423.84,137.02 L424.32,136.63 L424.81,136.24 L425.30,135.84 L425.78,135.45 L426.26,135.06 L426.74,134.67 L427.22,134.28 L427.70,133.89 L428.18,133.50 L428.66,133.11 L429.14,132.72 L429.61,132.34 L430.08,131.95 L430.56,131.57 L431.03,131.18 L431.50,130.80" stroke="#26a45e"/>
<path d="M431.81,114.01 L432.47,113.75 L433.13,113.48 L433.78,113.21 L434.44,112.94 L435.09,112.66 L435.73,112.37 L436.38,112.08 L437.02,111.79 L437.66,111.49 L438.30,111.19 L438.94,110.89 L439.57,110.58 L440.20,110.27 L440.83,109.95 L441.46,109.63 L442.08,109.31 L442.70,108.98 L443.32,108.65 L443.94,108.32 L444.56,107.98 L445.17,107.63 L445.78,107.29 L446.39,106.94 L447.00,106.59 L447.60,106.23 L448.21,105.87 L448.81,105.51 L449.41,105.15 L450.01,104.78 L450.60,104.40 L451.20,104.03 L451.79,103.65 L452.38,103.27 L452.97,102.89 L453.55,102.50 L454.14,102.11 L454.72,101.72 L455.30,101.32 L455.88,100.92 L456.46,100.52 L457.04,100.12 L457.61,99.71 L458.19,99.30 L458.76,98.89 L459.33,98.48 L459.90,98.06 L460.47,97.64 L461.04,97.22 L461.60,96.80 L462.16,96.37 L462.73,95.95 L463.29,95.52 L463.85,95.08 L464.41,94.65 L464.96,94.21 L465.52,93.78 L466.08,93.34 L466.63,92.89 L467.18,92.45 L467.73,92.00 L468.29,91.56 L468.83,91.11 L469.38,90.66 L469.93,90.20 L470.48,89.75 L471.02,89.29 L471.57,88.84 L472.11,88.38 L472.66,87.92 L473.20,87.46 L473.74,86.99 L474.28,86.53 L474.82,86.07 L475.36,85.60 L475.90,85.13 L476.44,84.66 L476.98,84.19 L477.51,83.72 L478.05,83.25 L478.58,82.78 L479.12,82.30 L479.65,81.83 L480.19,81.36 L480.72,80.88 L481.26,80.40 L481.79,79.93 L482.32,79.45 L482.85,78.97 L483.38,78.49 L483.92,78.01 L484.45,77.53 L484.98,77.05 L485.51,76.57 L486.04,76.09 L486.57,75.61 L487.10,75.13 L487.63,74.65 L488.16,74.16 L488.69,73.68 L489.22,73.20 L489.75,72.72 L490.28,72.24 L490.81,71.76 L491.34,71.27 L491.87,70.79 L492.40,70.31 L492.94,69.83 L493.47,69.35 L494.00,68.87 L494.53,68.39 L495.06,67.91 L495.59,67.43 L496.12,66.95 L496.66,66.48 L497.19,66.00 L497.72,65.52 L498.26,65.05 L498.79,64.57 L499.33,64.10 L499.86,63.63 L500.40,63.15 L500.93,62.68 L501.47,62.21 L502.01,61.74 L502.55,61.27 L503.08,60.81 L503.62,60.34 L504.16,59.88 L504.71,59.41 L505.25,58.95 L505.79,58.49 L506.33,58.03 L506.88,57.57 L507.42,57.12 L507.97,56.66 L508.51,56.21 L509.06,55.76 L509.61,55.31 L510.16,54.86 L510.71,54.41 L511.26,53.96 L511.82,53.52 L512.37,53.08 L512.93,52.64 L513.48,52.20 L514.04,51.77 L514.60,51.34 L515.16,50.90 L515.72,50.47 L516.28,50.05 L516.85,49.62 L517.41,49.20 L517.98,48.78 L518.55,48.36 L519.11,47.95 L519.69,47.53 L520.26,47.12 L520.83,46.72 L521.41,46.31" stroke="#26a45e"/>
</g>
<path d="M342.75,196.50V193.30M387.45,196.50V193.30M432.15,196.50V193.30M476.85,196.50V193.30M521.55,196.50V193.30M365.10,196.50V194.70M409.80,196.50V194.70M454.50,196.50V194.70M499.20,196.50V194.70M320.40,167.44H323.60M320.40,138.37H323.60M320.40,109.30H323.60M320.40,80.23H323.60M320.40,51.16H323.60M320.40,181.97H322.20M320.40,152.91H322.20M320.40,123.83H322.20M320.40,94.77H322.20M320.40,65.69H322.20M320.40,36.62H322.20" stroke="#000" stroke-width="1.5" fill="none"/>
<rect x="320.40" y="22.10" width="223.50" height="174.40" fill="none" stroke="#000" stroke-width="1.9"/>
<line x1="332.4" y1="35.30" x2="356.8" y2="35.30" stroke="#3b3b3b" stroke-width="1.9"/>
<text x="362.3" y="39.00" font-family="Liberation Serif" font-weight="bold" font-size="11" stroke="#000" stroke-width="0.25" textLength="28.8">700<tspan font-size="8.6" dy="-1">°</tspan><tspan dy="1">C</tspan></text>
<line x1="332.4" y1="49.10" x2="356.8" y2="49.10" stroke="#1c60e4" stroke-width="1.9"/>
<text x="362.3" y="52.80" font-family="Liberation Serif" font-weight="bold" font-size="11" stroke="#000" stroke-width="0.25" textLength="28.8">800<tspan font-size="8.6" dy="-1">°</tspan><tspan dy="1">C</tspan></text>
<line x1="332.4" y1="63.10" x2="356.8" y2="63.10" stroke="#ef3434" stroke-width="1.9"/>
<text x="362.3" y="66.80" font-family="Liberation Serif" font-weight="bold" font-size="11" stroke="#000" stroke-width="0.25" textLength="28.8">900<tspan font-size="8.6" dy="-1">°</tspan><tspan dy="1">C</tspan></text>
<line x1="332.4" y1="77.00" x2="356.8" y2="77.00" stroke="#26a45e" stroke-width="1.9"/>
<text x="362.3" y="80.70" font-family="Liberation Serif" font-weight="bold" font-size="11" stroke="#000" stroke-width="0.25" textLength="34.6">1000<tspan font-size="8.6" dy="-1">°</tspan><tspan dy="1">C</tspan></text>
<text x="342.75" y="215.8" text-anchor="middle" font-family="Liberation Serif" font-weight="bold" font-size="20">-2</text>
<text x="387.45" y="215.8" text-anchor="middle" font-family="Liberation Serif" font-weight="bold" font-size="20">-1</text>
<text x="432.15" y="215.8" text-anchor="middle" font-family="Liberation Serif" font-weight="bold" font-size="20">0</text>
<text x="476.85" y="215.8" text-anchor="middle" font-family="Liberation Serif" font-weight="bold" font-size="20">1</text>
<text x="521.55" y="215.8" text-anchor="middle" font-family="Liberation Serif" font-weight="bold" font-size="20">2</text>
<text x="316.3" y="28.89" text-anchor="end" font-family="Liberation Serif" font-weight="bold" font-size="20">30</text>
<text x="316.3" y="57.96" text-anchor="end" font-family="Liberation Serif" font-weight="bold" font-size="20">20</text>
<text x="316.3" y="87.03" text-anchor="end" font-family="Liberation Serif" font-weight="bold" font-size="20">10</text>
<text x="316.3" y="116.10" text-anchor="end" font-family="Liberation Serif" font-weight="bold" font-size="20">0</text>
<text x="316.3" y="145.17" text-anchor="end" font-family="Liberation Serif" font-weight="bold" font-size="20">-10</text>
<text x="316.3" y="174.24" text-anchor="end" font-family="Liberation Serif" font-weight="bold" font-size="20">-20</text>
<text x="316.3" y="203.31" text-anchor="end" font-family="Liberation Serif" font-weight="bold" font-size="20">-30</text>
<text x="335.6" y="233.0" font-family="Liberation Serif" font-weight="bold" font-size="20" textLength="192" lengthAdjust="spacingAndGlyphs">Electric field (MV/cm)</text>
<text transform="translate(284.1,198.4) rotate(-90)" font-family="Liberation Serif" font-weight="bold" font-size="20" textLength="178.6" lengthAdjust="spacingAndGlyphs">Polarization(μC/cm<tspan font-size="12" dy="-8">2</tspan><tspan dy="8">)</tspan></text>
<text x="269.8" y="16.1" font-family="Liberation Serif" font-size="16.4" textLength="16.8" lengthAdjust="spacingAndGlyphs" stroke="#000" stroke-width="0.15">(b)</text>
</svg>
</body></html>
